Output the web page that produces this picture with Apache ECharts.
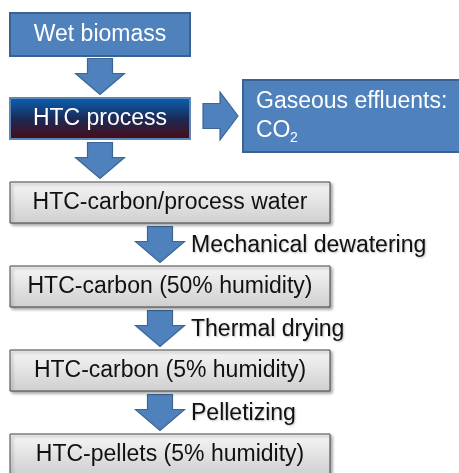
<!DOCTYPE html>
<html>
<head>
<meta charset="utf-8">
<script src="https://cdn.jsdelivr.net/npm/echarts@6/dist/echarts.min.js"></script>
<style>
html, body { margin: 0; padding: 0; background: #fff; }
#flow_chart { width: 459px; height: 473px; }
</style>
</head>
<body>
<div id="flow_chart"></div>
<script>
// stages of the process, top to bottom
var stages = [
	'Wet biomass',
	'HTC process',
	'HTC-carbon/process water',
	'HTC-carbon (50% humidity)',
	'HTC-carbon (5% humidity)',
	'HTC-pellets (5% humidity)'
];
// label of the arrow between stage i and stage i+1
var steps = ['', '', 'Mechanical dewatering', 'Thermal drying', 'Pelletizing'];
// side output of the HTC process
var sideStage = 1;
var sideOutput = ['Gaseous effluents:', 'CO', '2'];

var FONT = '"Liberation Sans", Arial, sans-serif';
var FS = 23;

var dom = document.getElementById('flow_chart');
var myChart = echarts.init(dom);

function boxItem(params, api) {
	var i = params.dataIndex;
	var cy = api.coord([0, api.value(1)])[1];
	var x0 = api.coord([10, 0])[0];
	var w = i < 2 ? 180 : 320;
	var h = i === 0 ? 43 : 41;
	var fill, stroke, lw, txt, shadow = false;
	if (i === 0) {
		fill = '#4F81BD'; stroke = '#3A6394'; lw = 2; txt = '#fff';
	} else if (i === 1) {
		fill = new echarts.graphic.LinearGradient(0, 0, 0, 1, [
			{ offset: 0, color: '#0B62B6' },
			{ offset: 0.5, color: '#1B2B58' },
			{ offset: 1, color: '#4C0A12' }
		]);
		stroke = '#5A86B8'; lw = 2; txt = '#fff';
	} else {
		fill = new echarts.graphic.LinearGradient(0, 0, 0, 1, [
			{ offset: 0, color: '#F6F6F6' },
			{ offset: 1, color: '#CFCFCF' }
		]);
		stroke = '#444'; lw = 1; txt = '#111';
		shadow = true;
	}
	var rectStyle = { fill: fill, stroke: stroke, lineWidth: lw };
	if (shadow) {
		rectStyle.shadowBlur = 3;
		rectStyle.shadowOffsetX = 2;
		rectStyle.shadowOffsetY = 2;
		rectStyle.shadowColor = 'rgba(0,0,0,0.35)';
	}
	return {
		type: 'group',
		children: [{
			type: 'rect',
			shape: { x: x0, y: cy - h / 2, width: w, height: h },
			style: rectStyle
		}, {
			type: 'text',
			style: {
				text: stages[i], x: x0 + w / 2, y: cy,
				align: 'center', verticalAlign: 'middle',
				fill: txt, fontSize: FS, fontFamily: FONT
			}
		}]
	};
}

function arrowItem(params, api) {
	var i = params.dataIndex;
	var cy = api.coord([0, api.value(1)])[1];
	var cx = api.coord([i < 2 ? 100 : 160, 0])[0];
	var pts = [
		[cx - 12.5, cy - 18], [cx + 12.5, cy - 18], [cx + 12.5, cy - 3],
		[cx + 24.5, cy - 3], [cx, cy + 18], [cx - 24.5, cy - 3], [cx - 12.5, cy - 3]
	];
	var children = [{
		type: 'polygon',
		shape: { points: pts },
		style: { fill: '#4F81BD', stroke: '#3A6596', lineWidth: 1.2 }
	}];
	if (steps[i]) {
		children.push({
			type: 'text',
			style: {
				text: steps[i], x: cx + 31, y: cy + 1,
				align: 'left', verticalAlign: 'middle',
				fill: '#111', fontSize: FS, fontFamily: FONT,
				textShadowColor: 'rgba(0,0,0,0.25)', textShadowBlur: 2, textShadowOffsetX: 1, textShadowOffsetY: 1
			}
		});
	}
	return { type: 'group', children: children };
}

function sideItem(params, api) {
	var cy = api.coord([0, api.value(1)])[1] - 2.5;
	var x = function (v) { return api.coord([v, 0])[0]; };
	var pts = [
		[x(203), cy - 12.5], [x(220), cy - 12.5], [x(220), cy - 24],
		[x(238), cy], [x(220), cy + 24], [x(220), cy + 12.5], [x(203), cy + 12.5]
	];
	return {
		type: 'group',
		children: [{
			type: 'polygon',
			shape: { points: pts },
			style: { fill: '#4F81BD', stroke: '#3A6596', lineWidth: 1.2 }
		}, {
			type: 'rect',
			shape: { x: x(243), y: cy - 36, width: 225, height: 72 },
			style: { fill: '#4F81BD', stroke: '#3A6394', lineWidth: 2 }
		}, {
			type: 'text',
			style: {
				text: sideOutput[0], x: x(256), y: cy - 14,
				verticalAlign: 'middle', fill: '#fff', fontSize: FS, fontFamily: FONT
			}
		}, {
			type: 'text',
			style: {
				text: sideOutput[1], x: x(256), y: cy + 15,
				verticalAlign: 'middle', fill: '#fff', fontSize: FS, fontFamily: FONT
			}
		}, {
			type: 'text',
			style: {
				text: sideOutput[2], x: x(256) + 34, y: cy + 22,
				verticalAlign: 'middle', fill: '#fff', fontSize: 14, fontFamily: FONT
			}
		}]
	};
}

var option = {
	animation: false,
	grid: { left: 0, right: 0, top: 0, bottom: 0 },
	xAxis: { type: 'value', min: 0, max: 459, show: false },
	yAxis: { type: 'value', inverse: true, min: -34.5 / 84, max: (473 - 34.5) / 84, show: false },
	series: [{
		type: 'custom',
		name: 'arrows',
		clip: false,
		renderItem: arrowItem,
		data: steps.map(function (s, i) { return [0, i + 0.5]; })
	}, {
		type: 'custom',
		name: 'stages',
		clip: false,
		renderItem: boxItem,
		data: stages.map(function (s, i) { return [0, i]; })
	}, {
		type: 'custom',
		name: 'side',
		clip: false,
		renderItem: sideItem,
		data: [[0, sideStage]]
	}]
};
myChart.setOption(option, true);
window.addEventListener('resize', function () {
	myChart.resize();
});
</script>
</body>
</html>
